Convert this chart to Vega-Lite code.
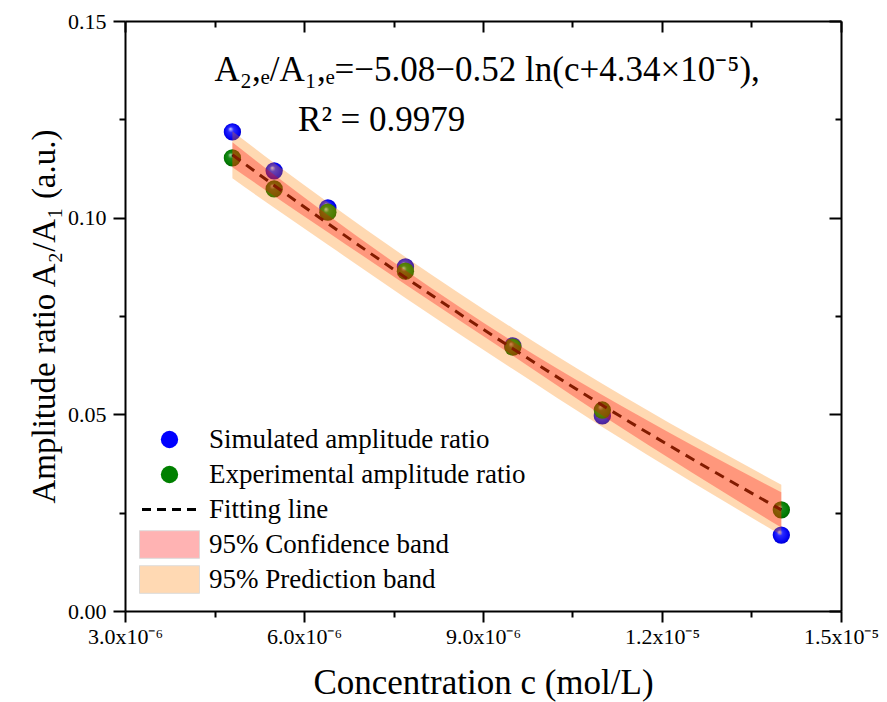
{
  "$schema": "https://vega.github.io/schema/vega-lite/v6.json",
  "width": 716,
  "height": 590,
  "autosize": {"type": "none"},
  "padding": {"left": 125, "top": 21, "right": 46, "bottom": 91},
  "background": "white",
  "config": {
    "view": {"stroke": null},
    "font": "Liberation Serif",
    "axis": {
      "labelFont": "Liberation Serif",
      "titleFont": "Liberation Serif",
      "labelColor": "black",
      "titleColor": "black",
      "domainColor": "black",
      "tickColor": "black",
      "domainWidth": 2,
      "tickWidth": 2,
      "grid": false,
      "titleFontWeight": "normal",
      "labelFontSize": 22,
      "titleFontSize": 34
    }
  },
  "datasets": {
    "sim": [
      {"c": 4.8e-6, "ratio": 0.1218},
      {"c": 5.5e-6, "ratio": 0.1119},
      {"c": 6.4e-6, "ratio": 0.1025},
      {"c": 7.7e-6, "ratio": 0.0875},
      {"c": 9.5e-6, "ratio": 0.0674},
      {"c": 1.1e-5, "ratio": 0.0496},
      {"c": 1.4e-5, "ratio": 0.0193}
    ],
    "exp": [
      {"c": 4.8e-6, "ratio": 0.1152},
      {"c": 5.5e-6, "ratio": 0.1073},
      {"c": 6.4e-6, "ratio": 0.1014},
      {"c": 7.7e-6, "ratio": 0.0864},
      {"c": 9.5e-6, "ratio": 0.0671},
      {"c": 1.1e-5, "ratio": 0.0511},
      {"c": 1.4e-5, "ratio": 0.0257}
    ],
    "fit": [
      {"c": 4.8e-6, "fit": 0.1160, "ciLo": 0.1128, "ciHi": 0.1192, "piLo": 0.1100, "piHi": 0.1220},
      {"c": 5.5e-6, "fit": 0.1082, "ciLo": 0.1055, "ciHi": 0.1109, "piLo": 0.1025, "piHi": 0.1139},
      {"c": 6.4e-6, "fit": 0.0985, "ciLo": 0.0963, "ciHi": 0.1007, "piLo": 0.0931, "piHi": 0.1039},
      {"c": 7.7e-6, "fit": 0.0848, "ciLo": 0.0830, "ciHi": 0.0866, "piLo": 0.0796, "piHi": 0.0900},
      {"c": 9.5e-6, "fit": 0.0667, "ciLo": 0.0649, "ciHi": 0.0685, "piLo": 0.0615, "piHi": 0.0719},
      {"c": 1.1e-5, "fit": 0.0523, "ciLo": 0.0497, "ciHi": 0.0549, "piLo": 0.0468, "piHi": 0.0578},
      {"c": 1.25e-5, "fit": 0.0387, "ciLo": 0.0352, "ciHi": 0.0422, "piLo": 0.0328, "piHi": 0.0446},
      {"c": 1.4e-5, "fit": 0.0257, "ciLo": 0.0212, "ciHi": 0.0302, "piLo": 0.0193, "piHi": 0.0321}
    ],
    "legendItems": [
      {"item": "Simulated amplitude ratio"},
      {"item": "Experimental amplitude ratio"},
      {"item": "Fitting line"},
      {"item": "95% Confidence band"},
      {"item": "95% Prediction band"}
    ],
    "notes": [
      {"label": "A₂,ₑ/A₁,ₑ=−5.08−0.52 ln(c+4.34×10⁻⁵),", "c": 4.5e-6, "ratio": 0.1375},
      {"label": "R² = 0.9979", "c": 5.9e-6, "ratio": 0.1248}
    ]
  },
  "resolve": {"axis": {"x": "independent", "y": "independent"}},
  "layer": [
    {
      "data": {"name": "legendItems"},
      "mark": {"type": "point", "filled": true, "opacity": 0},
      "encoding": {
        "color": {
          "field": "item",
          "type": "nominal",
          "scale": {
            "domain": ["Simulated amplitude ratio", "Experimental amplitude ratio", "Fitting line", "95% Confidence band", "95% Prediction band"],
            "range": ["#0000ff", "#008000", "#000000", "#ffb3b3", "#ffd9b3"]
          },
          "legend": {
            "orient": "none",
            "legendX": 31,
            "legendY": 405,
            "title": null,
            "padding": 0,
            "symbolSize": 784,
            "symbolStrokeWidth": 0,
            "labelFont": "Liberation Serif",
            "labelFontSize": 27,
            "labelColor": "black",
            "labelOffset": 26,
            "rowPadding": 2,
            "gridAlign": "all",
            "labelLimit": 450,
            "encode": {
              "symbols": {
                "update": {
                  "opacity": {"value": 1},
                  "shape": {"signal": "datum.value == 'Fitting line' ? 'stroke' : (datum.value == '95% Confidence band' || datum.value == '95% Prediction band') ? 'M-1,-0.46H1V0.46H-1Z' : 'circle'"},
                  "size": {"signal": "datum.value == 'Fitting line' ? 3025 : (datum.value == '95% Confidence band' || datum.value == '95% Prediction band') ? 3600 : 300"},
                  "stroke": {"signal": "datum.value == 'Fitting line' ? '#000000' : (datum.value == '95% Confidence band' || datum.value == '95% Prediction band') ? '#d8d8d8' : 'transparent'"},
                  "strokeWidth": {"signal": "datum.value == 'Fitting line' ? 3 : 1"},
                  "strokeDash": {"signal": "datum.value == 'Fitting line' ? [9, 6] : [1, 0]"},
                  "fill": {"signal": "datum.value == 'Simulated amplitude ratio' ? {gradient: 'radial', x1: 0.38, y1: 0.32, r1: 0, x2: 0.5, y2: 0.5, r2: 0.55, stops: [{offset: 0, color: '#d0d0ff'}, {offset: 0.3, color: '#2a2aff'}, {offset: 0.8, color: '#0000f0'}, {offset: 1, color: '#0000b8'}]} : datum.value == 'Experimental amplitude ratio' ? {gradient: 'radial', x1: 0.38, y1: 0.32, r1: 0, x2: 0.5, y2: 0.5, r2: 0.55, stops: [{offset: 0, color: '#b8dcb8'}, {offset: 0.3, color: '#1a8a1a'}, {offset: 0.8, color: '#007a00'}, {offset: 1, color: '#005200'}]} : datum.value == 'Fitting line' ? 'transparent' : datum.value == '95% Confidence band' ? '#ffb3b3' : '#ffd9b3'"}
                }
              }
            }
          }
        }
      }
    },
    {
      "data": {"name": "sim"},
      "mark": {
        "type": "point",
        "shape": "circle",
        "filled": true,
        "size": 300,
        "opacity": 1,
        "strokeWidth": 0,
        "fill": {"gradient": "radial", "x1": 0.38, "y1": 0.32, "r1": 0, "x2": 0.5, "y2": 0.5, "r2": 0.55,
          "stops": [{"offset": 0, "color": "#d0d0ff"}, {"offset": 0.3, "color": "#2a2aff"}, {"offset": 0.8, "color": "#0000f0"}, {"offset": 1, "color": "#0000b8"}]}
      },
      "encoding": {
        "x": {
          "field": "c", "type": "quantitative",
          "scale": {"domain": [3e-6, 1.5e-5], "nice": false, "zero": false},
          "axis": {
            "orient": "bottom",
            "title": "Concentration c (mol/L)",
            "titleFontSize": 35,
            "values": [3e-6, 4.5e-6, 6e-6, 7.5e-6, 9e-6, 1.05e-5, 1.2e-5, 1.35e-5, 1.5e-5],
            "labelExpr": "round(datum.value*1e7) == 30 ? '3.0x10⁻⁶' : round(datum.value*1e7) == 60 ? '6.0x10⁻⁶' : round(datum.value*1e7) == 90 ? '9.0x10⁻⁶' : round(datum.value*1e7) == 120 ? '1.2x10⁻⁵' : round(datum.value*1e7) == 150 ? '1.5x10⁻⁵' : ''",
            "tickSize": {"condition": {"test": "round(datum.value*1e7) % 30 != 0", "value": 6}, "value": 11},
            "labelPadding": 4,
            "titlePadding": 18,
            "labelFlush": false,
            "labelOverlap": false
          }
        },
        "y": {
          "field": "ratio", "type": "quantitative",
          "scale": {"domain": [0, 0.15], "nice": false, "zero": false},
          "axis": {
            "orient": "left",
            "title": "Amplitude ratio A₂/A₁ (a.u.)",
            "titleFontSize": 33,
            "values": [0, 0.025, 0.05, 0.075, 0.1, 0.125, 0.15],
            "labelExpr": "round(datum.value*1000) % 50 == 0 ? format(datum.value, '.2f') : ''",
            "tickSize": {"condition": {"test": "round(datum.value*1000) % 50 != 0", "value": 6}, "value": 12},
            "labelPadding": 7,
            "titlePadding": 6,
            "labelFlush": false,
            "labelOverlap": false
          }
        }
      }
    },
    {
      "data": {"name": "exp"},
      "mark": {
        "type": "point",
        "shape": "circle",
        "filled": true,
        "size": 300,
        "opacity": 1,
        "strokeWidth": 0,
        "fill": {"gradient": "radial", "x1": 0.38, "y1": 0.32, "r1": 0, "x2": 0.5, "y2": 0.5, "r2": 0.55,
          "stops": [{"offset": 0, "color": "#b8dcb8"}, {"offset": 0.3, "color": "#1a8a1a"}, {"offset": 0.8, "color": "#007a00"}, {"offset": 1, "color": "#005200"}]}
      },
      "encoding": {
        "x": {
          "field": "c", "type": "quantitative",
          "scale": {"domain": [3e-6, 1.5e-5], "nice": false, "zero": false},
          "axis": {
            "orient": "top",
            "title": null,
            "labels": false,
            "values": [3e-6, 6e-6, 9e-6, 1.2e-5, 1.5e-5],
            "tickSize": -11
          }
        },
        "y": {
          "field": "ratio", "type": "quantitative",
          "scale": {"domain": [0, 0.15], "nice": false, "zero": false},
          "axis": {
            "orient": "right",
            "title": null,
            "labels": false,
            "values": [0, 0.05, 0.1, 0.15],
            "tickSize": -12
          }
        }
      }
    },
    {
      "data": {"name": "fit"},
      "mark": {"type": "line", "color": "#000000", "strokeWidth": 3, "strokeDash": [10, 7], "interpolate": "monotone"},
      "encoding": {
        "x": {
          "field": "c", "type": "quantitative",
          "axis": {
            "orient": "top",
            "title": null,
            "labels": false,
            "domain": false,
            "values": [4.5e-6, 7.5e-6, 1.05e-5, 1.35e-5],
            "tickSize": -6
          }
        },
        "y": {
          "field": "fit", "type": "quantitative",
          "axis": {
            "orient": "right",
            "title": null,
            "labels": false,
            "domain": false,
            "values": [0.025, 0.075, 0.125],
            "tickSize": -6
          }
        }
      }
    },
    {
      "data": {"name": "fit"},
      "mark": {"type": "area", "color": "#ff8000", "opacity": 0.3, "interpolate": "monotone"},
      "encoding": {
        "x": {"field": "c", "type": "quantitative", "axis": null},
        "y": {"field": "piLo", "type": "quantitative", "axis": null},
        "y2": {"field": "piHi"}
      }
    },
    {
      "data": {"name": "fit"},
      "mark": {"type": "area", "color": "#ff0000", "opacity": 0.3, "interpolate": "monotone"},
      "encoding": {
        "x": {"field": "c", "type": "quantitative", "axis": null},
        "y": {"field": "ciLo", "type": "quantitative", "axis": null},
        "y2": {"field": "ciHi"}
      }
    },
    {
      "data": {"name": "notes"},
      "mark": {"type": "text", "font": "Liberation Serif", "fontSize": 35, "align": "left", "baseline": "middle", "color": "black"},
      "encoding": {
        "x": {"field": "c", "type": "quantitative", "axis": null},
        "y": {"field": "ratio", "type": "quantitative", "axis": null},
        "text": {"field": "label"}
      }
    }
  ]
}
